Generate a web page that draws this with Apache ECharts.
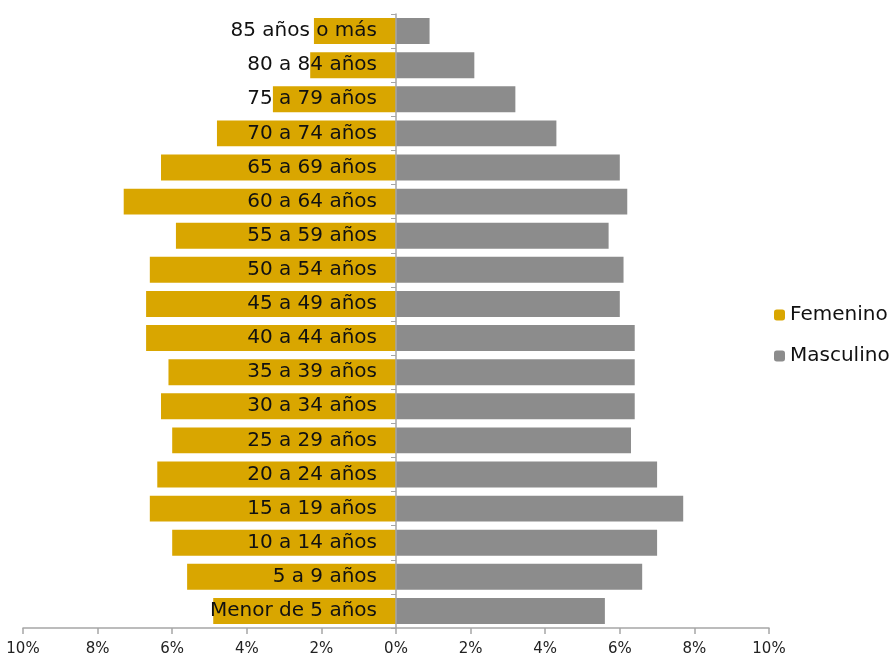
<!DOCTYPE html>
<html><head><meta charset="utf-8">
<script src="https://cdn.jsdelivr.net/npm/echarts@6/dist/echarts.min.js"></script>
<style>html,body{margin:0;padding:0;background:#fff}#c{width:894px;height:662px}</style>
</head><body><div id="c"></div>
<script>
const categories = ["Menor de 5 años","5 a 9 años","10 a 14 años","15 a 19 años","20 a 24 años","25 a 29 años","30 a 34 años","35 a 39 años","40 a 44 años","45 a 49 años","50 a 54 años","55 a 59 años","60 a 64 años","65 a 69 años","70 a 74 años","75 a 79 años","80 a 84 años","85 años o más"];
const femenino = [4.9,5.6,6.0,6.6,6.4,6.0,6.3,6.1,6.7,6.7,6.6,5.9,7.3,6.3,4.8,3.3,2.3,2.2];
const masculino = [5.6,6.6,7.0,7.7,7.0,6.3,6.4,6.4,6.4,6.0,6.1,5.7,6.2,6.0,4.3,3.2,2.1,0.9];
const font = '"DejaVu Sans", sans-serif';
const chart = echarts.init(document.getElementById('c'));
chart.setOption({
  animation:false,
  grid:{left:23,right:125,top:14,bottom:34,containLabel:false,outerBoundsMode:'none'},
  legend:{orient:'vertical',left:769,top:300,itemWidth:11,itemHeight:11,itemGap:21,
    textStyle:{fontFamily:font,fontSize:20,color:'#111'},data:['Femenino','Masculino']},
  xAxis:{type:'value',min:-10,max:10,interval:2,splitLine:{show:false},
    axisLine:{show:true,lineStyle:{color:'#a6a6a6',width:1.5}},
    axisTick:{show:true,length:6,lineStyle:{color:'#a6a6a6',width:1.5}},
    axisLabel:{formatter:v=>Math.abs(v)+'%',fontFamily:font,fontSize:15,color:'#222',margin:14}},
  yAxis:{type:'category',data:categories,z:10,offset:-373,
    axisLine:{onZero:false,lineStyle:{color:'#a6a6a6',width:1.5}},
    axisTick:{show:true,length:5,lineStyle:{color:'#a6a6a6'}},
    axisLabel:{fontFamily:font,fontSize:20,color:'#111',margin:19}},
  series:[
    {name:'Femenino',type:'bar',data:femenino.map(v=>-v),barWidth:'76%',barGap:'-100%',
     itemStyle:{color:'#D9A600'}},
    {name:'Masculino',type:'bar',data:masculino,barWidth:'76%',
     itemStyle:{color:'#8C8C8C'}}
  ]
});
</script></body></html>
